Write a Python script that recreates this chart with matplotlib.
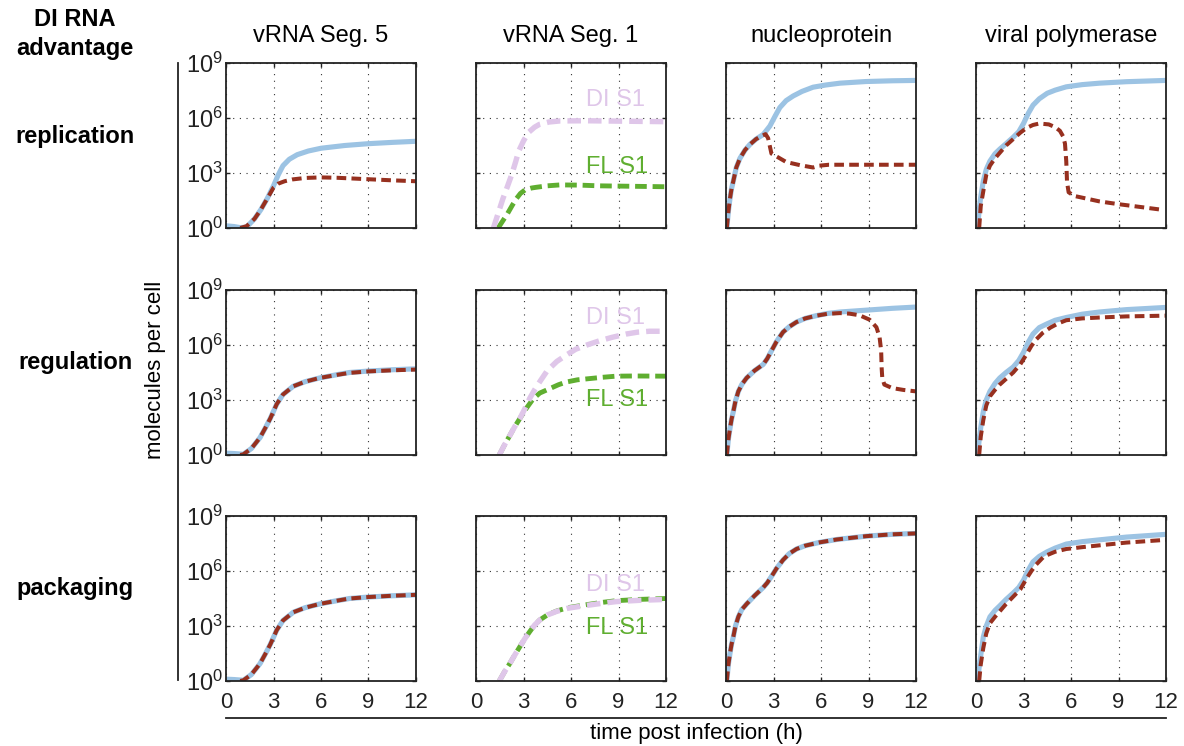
import matplotlib
matplotlib.use("Agg")
import matplotlib.pyplot as plt
from matplotlib.lines import Line2D
import numpy as np

plt.rcParams['font.family'] = ['Liberation Sans', 'DejaVu Sans']
plt.rcParams['mathtext.fontset'] = 'custom'
plt.rcParams['mathtext.rm'] = 'Liberation Sans'
plt.rcParams['mathtext.it'] = 'Liberation Sans:italic'
plt.rcParams['mathtext.bf'] = 'Liberation Sans:bold'

# ---- labels ----
row_names = ["replication", "regulation", "packaging"]
col_names = ["vRNA Seg. 5", "vRNA Seg. 1", "nucleoprotein", "viral polymerase"]
x_ticks = [0, 3, 6, 9, 12]
y_ticks = [1e0, 1e3, 1e6, 1e9]

# ---- data (log10 molecules per cell vs hours) ----
# replication row
rep_s5_blue_t = [0, 0.5, 0.9, 1.3, 1.8, 2.2, 2.6, 3.0, 3.3, 3.6, 4.0, 4.5, 5.2, 6.0, 7.5, 9.0, 10.5, 12]
rep_s5_blue_v = [0.12, 0.08, 0.02, 0.05, 0.5, 1.0, 1.6, 2.3, 2.9, 3.4, 3.75, 4.0, 4.2, 4.35, 4.5, 4.6, 4.67, 4.73]
rep_s5_red_t = [0.9, 1.3, 1.8, 2.2, 2.6, 3.0, 3.3, 3.7, 4.2, 5.0, 6.0, 7.0, 9.0, 10.5, 12]
rep_s5_red_v = [0.0, 0.1, 0.5, 1.0, 1.6, 2.2, 2.42, 2.55, 2.65, 2.73, 2.76, 2.74, 2.66, 2.6, 2.55]

rep_s1_di_t = [1.1, 1.4, 1.7, 2.0, 2.25, 2.5, 2.7, 3.0, 3.3, 3.7, 4.0, 4.6, 5.3, 7.0, 9.0, 12]
rep_s1_di_v = [0, 0.8, 1.6, 2.3, 2.9, 3.6, 4.2, 4.75, 5.2, 5.5, 5.65, 5.78, 5.84, 5.85, 5.83, 5.8]
rep_s1_fl_t = [1.4, 1.7, 2.0, 2.3, 2.55, 2.8, 3.1, 3.5, 3.8, 4.5, 5.3, 6.5, 7.8, 9.5, 12]
rep_s1_fl_v = [0, 0.4, 0.8, 1.25, 1.6, 1.88, 2.08, 2.18, 2.22, 2.3, 2.35, 2.34, 2.3, 2.28, 2.25]

rep_np_blue_t = [0.05, 0.15, 0.25, 0.35, 0.46, 0.65, 0.88, 1.2, 1.5, 1.9, 2.35, 2.77, 3.1, 3.4, 3.8, 4.24, 4.8, 5.5, 6.3, 7.2, 8.85, 10.5, 12]
rep_np_blue_v = [0, 0.9, 1.6, 2.15, 2.55, 3.3, 3.8, 4.25, 4.55, 4.85, 5.1, 5.56, 6.1, 6.57, 6.95, 7.2, 7.45, 7.68, 7.8, 7.9, 7.99, 8.03, 8.05]
rep_np_red_t = [0.05, 0.15, 0.25, 0.35, 0.46, 0.65, 0.88, 1.2, 1.5, 1.9, 2.2, 2.5, 2.66, 2.87, 3.2, 3.8, 4.66, 5.5, 5.9, 6.5, 7.8, 9.5, 12]
rep_np_red_v = [0, 0.9, 1.6, 2.15, 2.55, 3.3, 3.8, 4.25, 4.55, 4.85, 5.0, 5.12, 4.9, 4.06, 3.9, 3.6, 3.43, 3.3, 3.4, 3.45, 3.45, 3.45, 3.45]

rep_pol_blue_t = [0.1, 0.2, 0.3, 0.46, 0.65, 0.88, 1.2, 1.5, 1.9, 2.35, 2.7, 3.0, 3.3, 3.6, 4.0, 4.5, 5.0, 5.7, 6.7, 7.8, 9.5, 12]
rep_pol_blue_v = [0, 1.0, 1.7, 2.55, 3.2, 3.65, 4.05, 4.3, 4.6, 4.95, 5.25, 5.7, 6.25, 6.7, 7.05, 7.35, 7.52, 7.7, 7.82, 7.9, 7.98, 8.05]
rep_pol_red_t = [0.2, 0.3, 0.46, 0.65, 0.88, 1.2, 1.5, 1.9, 2.35, 2.8, 3.2, 3.6, 4.0, 4.6, 5.0, 5.3, 5.5, 5.62, 5.7, 5.75, 5.85, 6.2, 7.0, 7.8, 9.0, 9.9, 11.7]
rep_pol_red_v = [0, 1.2, 2.0, 2.9, 3.4, 3.8, 4.1, 4.5, 4.85, 5.2, 5.46, 5.62, 5.7, 5.65, 5.5, 5.3, 5.0, 4.6, 3.65, 2.5, 1.95, 1.75, 1.6, 1.45, 1.3, 1.2, 1.0]

# regulation row
reg_s5_blue_t = [0, 0.5, 1.1, 1.6, 2.15, 2.5, 2.8, 3.2, 3.6, 4.25, 5.0, 5.9, 7.0, 7.8, 9.0, 10.5, 12]
reg_s5_blue_v = [0.1, 0.08, 0.04, 0.35, 0.95, 1.5, 2.0, 2.77, 3.3, 3.75, 4.0, 4.2, 4.38, 4.5, 4.58, 4.65, 4.7]
reg_s5_red_t = [0.9, 1.1, 1.6, 2.15, 2.5, 2.8, 3.2, 3.6, 4.25, 5.0, 5.9, 7.0, 7.8, 9.0, 10.5, 12]
reg_s5_red_v = [0.0, 0.04, 0.35, 0.95, 1.5, 2.0, 2.77, 3.3, 3.75, 4.0, 4.2, 4.37, 4.48, 4.56, 4.62, 4.66]

reg_s1_di_t = [1.47, 1.8, 2.14, 2.45, 2.77, 3.1, 3.4, 3.7, 4.03, 4.5, 5.1, 5.7, 6.3, 7.0, 7.8, 8.6, 9.5, 10.2, 10.95, 12]
reg_s1_di_v = [0, 0.55, 1.07, 1.55, 1.99, 2.55, 3.1, 3.55, 4.0, 4.6, 5.1, 5.45, 5.77, 6.0, 6.23, 6.42, 6.6, 6.7, 6.75, 6.75]
reg_s1_fl_t = [1.47, 1.8, 2.14, 2.45, 2.77, 3.1, 3.35, 3.6, 4.03, 4.66, 5.2, 5.7, 6.4, 7.2, 8.0, 8.85, 10.0, 12]
reg_s1_fl_v = [0, 0.55, 1.07, 1.55, 1.99, 2.45, 2.75, 3.05, 3.38, 3.62, 3.83, 3.98, 4.1, 4.17, 4.24, 4.3, 4.31, 4.3]

reg_np_blue_t = [0.05, 0.15, 0.25, 0.35, 0.46, 0.6, 0.78, 1.0, 1.3, 1.8, 2.35, 2.6, 2.87, 3.2, 3.6, 4.0, 4.45, 5.0, 5.7, 6.4, 7.2, 8.85, 10.5, 12]
reg_np_blue_v = [0, 0.85, 1.44, 1.95, 2.36, 2.95, 3.47, 3.85, 4.2, 4.6, 4.94, 5.25, 5.68, 6.2, 6.7, 7.0, 7.25, 7.45, 7.6, 7.72, 7.8, 7.9, 8.0, 8.07]
reg_np_red_t = [0.05, 0.15, 0.25, 0.35, 0.46, 0.6, 0.78, 1.0, 1.3, 1.8, 2.35, 2.6, 2.87, 3.2, 3.6, 4.0, 4.45, 5.0, 5.7, 6.4, 7.2, 7.8, 8.44, 9.07, 9.5, 9.7, 9.8, 9.83, 9.87, 10.0, 10.5, 11.2, 12]
reg_np_red_v = [0, 0.85, 1.44, 1.95, 2.36, 2.95, 3.47, 3.85, 4.2, 4.6, 4.94, 5.25, 5.68, 6.2, 6.7, 7.0, 7.25, 7.45, 7.6, 7.7, 7.74, 7.71, 7.62, 7.38, 6.97, 6.42, 5.68, 4.76, 4.2, 3.84, 3.65, 3.55, 3.47]

reg_pol_blue_t = [0.1, 0.2, 0.3, 0.46, 0.65, 0.88, 1.2, 1.5, 1.9, 2.35, 2.7, 3.0, 3.3, 3.6, 4.0, 4.5, 5.0, 5.7, 6.7, 7.8, 9.5, 12]
reg_pol_blue_v = [0, 0.8, 1.5, 2.36, 3.0, 3.47, 3.9, 4.2, 4.5, 4.8, 5.15, 5.6, 6.15, 6.6, 6.95, 7.16, 7.35, 7.5, 7.68, 7.8, 7.93, 8.05]
reg_pol_red_t = [0.2, 0.3, 0.46, 0.65, 0.88, 1.2, 1.5, 1.9, 2.35, 2.8, 3.2, 3.5, 3.8, 4.2, 4.7, 5.2, 5.7, 6.7, 7.8, 9.5, 12]
reg_pol_red_v = [0, 1.0, 1.9, 2.7, 3.2, 3.55, 3.84, 4.15, 4.5, 4.95, 5.5, 5.95, 6.3, 6.65, 6.95, 7.18, 7.35, 7.45, 7.5, 7.56, 7.6]

# packaging row
pack_s5_blue_t = [0, 0.5, 1.1, 1.6, 2.15, 2.5, 2.8, 3.2, 3.6, 4.25, 5.0, 5.9, 7.0, 7.8, 9.0, 10.5, 12]
pack_s5_blue_v = [0.1, 0.08, 0.04, 0.35, 0.95, 1.5, 2.0, 2.77, 3.3, 3.75, 4.0, 4.2, 4.38, 4.5, 4.58, 4.65, 4.7]
pack_s5_red_t = [0.9, 1.1, 1.6, 2.15, 2.5, 2.8, 3.2, 3.6, 4.25, 5.0, 5.9, 7.0, 7.8, 9.0, 10.5, 12]
pack_s5_red_v = [0.0, 0.04, 0.35, 0.95, 1.5, 2.0, 2.77, 3.3, 3.75, 4.0, 4.2, 4.38, 4.5, 4.58, 4.65, 4.7]

pack_s1_di_t = [1.47, 1.8, 2.14, 2.45, 2.77, 3.1, 3.4, 3.7, 4.03, 4.5, 5.1, 5.8, 6.8, 7.8, 8.85, 10.3, 12]
pack_s1_di_v = [0, 0.5, 0.96, 1.42, 1.87, 2.33, 2.7, 3.05, 3.33, 3.6, 3.8, 3.97, 4.1, 4.22, 4.33, 4.4, 4.45]
pack_s1_fl_t = [1.47, 1.8, 2.14, 2.45, 2.77, 3.1, 3.4, 3.7, 4.03, 4.5, 5.1, 5.8, 6.8, 7.8, 8.85, 10.3, 12]
pack_s1_fl_v = [0, 0.5, 0.96, 1.42, 1.87, 2.33, 2.7, 3.05, 3.33, 3.6, 3.82, 4.0, 4.14, 4.27, 4.38, 4.45, 4.5]

pack_np_blue_t = [0.05, 0.15, 0.25, 0.35, 0.46, 0.6, 0.78, 1.0, 1.3, 1.8, 2.35, 2.6, 2.87, 3.2, 3.6, 4.0, 4.45, 5.0, 5.9, 7.0, 8.85, 10.5, 12]
pack_np_blue_v = [0, 0.9, 1.5, 2.0, 2.4, 3.0, 3.5, 3.9, 4.2, 4.65, 5.1, 5.35, 5.7, 6.15, 6.6, 6.95, 7.2, 7.38, 7.56, 7.72, 7.9, 8.0, 8.05]
pack_np_red_t = [0.05, 0.15, 0.25, 0.35, 0.46, 0.6, 0.78, 1.0, 1.3, 1.8, 2.35, 2.6, 2.87, 3.2, 3.6, 4.0, 4.45, 5.0, 5.9, 7.0, 8.85, 10.5, 12]
pack_np_red_v = [0, 0.9, 1.5, 2.0, 2.4, 3.0, 3.5, 3.9, 4.2, 4.65, 5.1, 5.35, 5.7, 6.15, 6.6, 6.95, 7.2, 7.38, 7.56, 7.72, 7.9, 8.0, 8.05]

pack_pol_blue_t = [0.1, 0.2, 0.3, 0.46, 0.65, 0.88, 1.2, 1.5, 1.9, 2.35, 2.7, 3.0, 3.3, 3.6, 4.0, 4.5, 5.0, 5.7, 6.7, 7.8, 9.5, 12]
pack_pol_blue_v = [0, 0.75, 1.4, 2.4, 3.0, 3.5, 3.85, 4.1, 4.45, 4.8, 5.1, 5.5, 6.05, 6.5, 6.8, 7.05, 7.25, 7.47, 7.6, 7.7, 7.85, 8.0]
pack_pol_red_t = [0.2, 0.3, 0.46, 0.65, 0.88, 1.2, 1.5, 1.9, 2.35, 2.8, 3.2, 3.5, 3.8, 4.3, 5.0, 5.7, 6.7, 7.8, 9.5, 12]
pack_pol_red_v = [0, 0.9, 1.8, 2.6, 3.15, 3.5, 3.8, 4.2, 4.6, 5.0, 5.6, 6.0, 6.35, 6.8, 7.05, 7.2, 7.3, 7.4, 7.55, 7.7]

# ---- styles ----
BLUE = '#9cc3e3'
RED = '#97301f'
PINK = '#dfc6e9'
GREEN = '#5fae30'

W, H = 1184, 746
fig = plt.figure(figsize=(W / 100, H / 100), dpi=100)

col_left = [226, 476, 726, 976]
row_top = [63, 290, 516]
ax_w, ax_h = 190, 165


def make_ax(r, c):
    ax = fig.add_axes([col_left[c] / W, 1 - (row_top[r] + ax_h) / H, ax_w / W, ax_h / H])
    ax.set_yscale('log')
    ax.set_xlim(0, 12)
    ax.set_ylim(1, 1e9)
    ax.set_xticks(x_ticks)
    ax.set_yticks(y_ticks)
    ax.minorticks_off()
    ax.grid(True, color='#333333', linestyle=(0, (1, 5)), linewidth=0.8)
    ax.tick_params(direction='in', length=3, width=1, top=True, right=True,
                   colors='#222222')
    ax.tick_params(axis='x', labelsize=16, pad=8)
    ax.tick_params(axis='y', labelsize=17, pad=2)
    for s in ax.spines.values():
        s.set_linewidth(1.3)
        s.set_color('#222222')
    if c != 0:
        ax.set_yticklabels([])
    if r != 2:
        ax.set_xticklabels([])
    return ax


def pair(ax, bt, bv, rt, rv):
    ax.plot(bt, 10 ** np.array(bv), color=BLUE, lw=3.7, solid_capstyle='butt')
    ax.plot(rt, 10 ** np.array(rv), color=RED, lw=2.9, dashes=(2.4, 1.3))


def seg1(ax, dt, dv, ft, fv, y_di, y_fl):
    ax.plot(ft, 10 ** np.array(fv), color=GREEN, lw=3.5, dashes=(2.4, 1.2))
    ax.plot(dt, 10 ** np.array(dv), color=PINK, lw=3.9, dashes=(2.5, 1.3))
    ax.text(8.8, y_di, "DI S1", color=PINK, fontsize=17, ha='center', va='center')
    ax.text(8.9, y_fl, "FL S1", color=GREEN, fontsize=17, ha='center', va='center')


# row 1
pair(make_ax(0, 0), rep_s5_blue_t, rep_s5_blue_v, rep_s5_red_t, rep_s5_red_v)
seg1(make_ax(0, 1), rep_s1_di_t, rep_s1_di_v, rep_s1_fl_t, rep_s1_fl_v, 1e7, 2e3)
pair(make_ax(0, 2), rep_np_blue_t, rep_np_blue_v, rep_np_red_t, rep_np_red_v)
pair(make_ax(0, 3), rep_pol_blue_t, rep_pol_blue_v, rep_pol_red_t, rep_pol_red_v)
# row 2
pair(make_ax(1, 0), reg_s5_blue_t, reg_s5_blue_v, reg_s5_red_t, reg_s5_red_v)
seg1(make_ax(1, 1), reg_s1_di_t, reg_s1_di_v, reg_s1_fl_t, reg_s1_fl_v, 3e7, 1e3)
pair(make_ax(1, 2), reg_np_blue_t, reg_np_blue_v, reg_np_red_t, reg_np_red_v)
pair(make_ax(1, 3), reg_pol_blue_t, reg_pol_blue_v, reg_pol_red_t, reg_pol_red_v)
# row 3
pair(make_ax(2, 0), pack_s5_blue_t, pack_s5_blue_v, pack_s5_red_t, pack_s5_red_v)
seg1(make_ax(2, 1), pack_s1_di_t, pack_s1_di_v, pack_s1_fl_t, pack_s1_fl_v, 1.7e5, 8e2)
pair(make_ax(2, 2), pack_np_blue_t, pack_np_blue_v, pack_np_red_t, pack_np_red_v)
pair(make_ax(2, 3), pack_pol_blue_t, pack_pol_blue_v, pack_pol_red_t, pack_pol_red_v)

# column titles
for c, name in enumerate(col_names):
    fig.text((col_left[c] + ax_w / 2) / W, 1 - 36 / H, name, fontsize=17,
             ha='center', va='center')

# row labels
fig.text(75 / W, 1 - 20 / H, "DI RNA", fontsize=17, fontweight='bold',
         ha='center', va='center')
fig.text(75 / W, 1 - 48 / H, "advantage", fontsize=17, fontweight='bold',
         ha='center', va='center')
for r, name in enumerate(row_names):
    fig.text(75 / W, 1 - (row_top[r] + 73) / H, name, fontsize=17, fontweight='bold',
             ha='center', va='center')

# shared axis lines and labels
fig.add_artist(Line2D([178 / W, 178 / W], [1 - 63 / H, 1 - 680 / H], color='#222222', lw=1.3))
fig.add_artist(Line2D([226 / W, 1166 / W], [1 - 718 / H, 1 - 718 / H], color='#222222', lw=1.3))
fig.text(155 / W, 1 - 370 / H, "molecules per cell", fontsize=16, rotation=90,
         ha='center', va='center')
fig.text(696 / W, 1 - 734 / H, "time post infection (h)", fontsize=16,
         ha='center', va='center')

fig.savefig("out.png", dpi=100)
